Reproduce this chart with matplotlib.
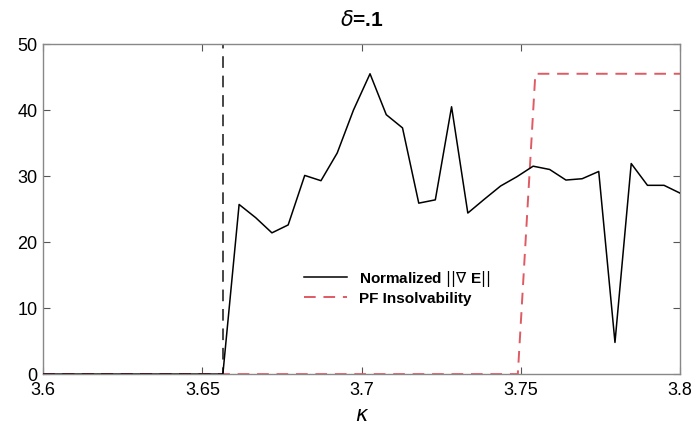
import numpy as np
import matplotlib as mpl
mpl.use('Agg')
import matplotlib.pyplot as plt

plt.rcParams['font.family'] = ['Liberation Sans Narrow', 'Liberation Sans', 'DejaVu Sans']

# ---- data ----
kappa = [3.600, 3.6564, 3.6615, 3.6667, 3.6718, 3.6769, 3.6821, 3.6872, 3.6923,
         3.6974, 3.7026, 3.7077, 3.7128, 3.7179, 3.7231, 3.7282, 3.7333, 3.7385,
         3.7436, 3.7487, 3.7538, 3.7590, 3.7641, 3.7692, 3.7744, 3.7795, 3.7846,
         3.7897, 3.7949, 3.8000]
grad_norm = [0.0, 0.0, 25.7, 23.7, 21.4, 22.6, 30.1, 29.3, 33.5, 40.0, 45.5,
             39.3, 37.3, 25.9, 26.4, 40.5, 24.4, 26.5, 28.5, 29.9, 31.5, 31.0,
             29.4, 29.6, 30.7, 4.8, 31.9, 28.6, 28.6, 27.4]

thr_kappa = [3.600, 3.6564, 3.6564]
thr_val = [0.0, 0.0, 60.0]

pf_kappa = [3.600, 3.7490, 3.7545, 3.800]
pf_val = [0.0, 0.0, 45.5, 45.5]

fig = plt.figure(figsize=(6.97, 4.32), dpi=100)
ax = fig.add_axes([0.062, 0.134, 0.914, 0.764])

ax.plot(thr_kappa, thr_val, color='#454545', lw=1.4, ls=(0, (6, 4)), zorder=2)
ax.plot(pf_kappa, pf_val, color='#e05a63', lw=1.4, ls=(0, (6, 4)),
        label='PF Insolvability', zorder=3)
ax.plot(kappa, grad_norm, color='black', lw=1.1,
        label=r'Normalized $||\nabla$ E$||$', zorder=4)

ax.set_xlim(3.6, 3.8)
ax.set_ylim(0, 50)
ax.set_xticks([3.6, 3.65, 3.7, 3.75, 3.8])
ax.set_xticklabels(['3.6', '3.65', '3.7', '3.75', '3.8'])
ax.set_yticks([0, 10, 20, 30, 40, 50])
ax.tick_params(direction='in', top=True, right=True, length=5, width=0.8,
               color='#555555', labelsize=13)
ax.tick_params(axis='x', pad=6)
ax.tick_params(axis='y', pad=4)
for s in ax.spines.values():
    s.set_color('#888888')
    s.set_linewidth(1.0)

ax.set_title(r'$\delta$=.1', fontsize=15, fontweight='bold', pad=13)
ax.set_xlabel(r'$\kappa$', fontsize=15, labelpad=5)

h, l = ax.get_legend_handles_labels()
leg = ax.legend(h[::-1], l[::-1], loc='center', bbox_to_anchor=(0.556, 0.263),
                frameon=False, fontsize=11, handlelength=2.8, borderpad=0.2,
                labelspacing=0.2)
for t in leg.get_texts():
    t.set_fontweight('bold')

fig.savefig('out.png', dpi=100, facecolor='white')
